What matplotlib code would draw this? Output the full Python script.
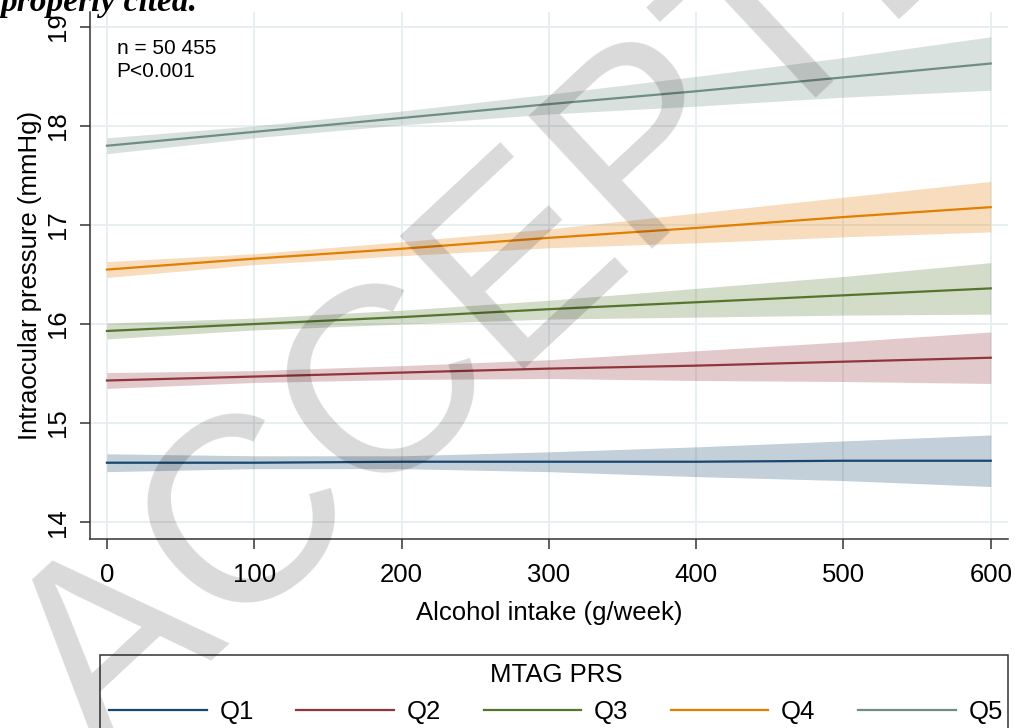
import matplotlib
matplotlib.use("Agg")
import matplotlib.pyplot as plt
from matplotlib.lines import Line2D
from matplotlib.patches import Rectangle

plt.rcParams['font.family'] = ['Liberation Sans', 'DejaVu Sans']

# alcohol intake (g/week) at which values were read
alcohol = [0, 100, 200, 300, 400, 500, 600]

groups = ['Q1', 'Q2', 'Q3', 'Q4', 'Q5']
colors = ['#1a476f', '#90353b', '#55752f', '#e37e00', '#6e8e84']

# predicted IOP (mmHg) per PRS quintile
fit_q1 = [14.60, 14.60, 14.61, 14.61, 14.61, 14.62, 14.62]
fit_q2 = [15.43, 15.47, 15.51, 15.55, 15.58, 15.62, 15.66]
fit_q3 = [15.93, 16.00, 16.07, 16.15, 16.22, 16.29, 16.36]
fit_q4 = [16.55, 16.66, 16.76, 16.87, 16.97, 17.08, 17.18]
fit_q5 = [17.80, 17.94, 18.08, 18.22, 18.35, 18.49, 18.63]

# 95% CI bounds
lo_q1 = [14.51, 14.54, 14.54, 14.51, 14.46, 14.42, 14.36]
hi_q1 = [14.69, 14.67, 14.67, 14.71, 14.76, 14.82, 14.88]
lo_q2 = [15.35, 15.41, 15.44, 15.45, 15.43, 15.42, 15.40]
hi_q2 = [15.51, 15.53, 15.58, 15.64, 15.73, 15.82, 15.92]
lo_q3 = [15.85, 15.94, 16.00, 16.05, 16.07, 16.09, 16.10]
hi_q3 = [16.01, 16.06, 16.14, 16.24, 16.36, 16.48, 16.62]
lo_q4 = [16.47, 16.60, 16.69, 16.77, 16.82, 16.88, 16.93]
hi_q4 = [16.63, 16.71, 16.83, 16.96, 17.12, 17.28, 17.44]
lo_q5 = [17.72, 17.88, 18.01, 18.12, 18.20, 18.29, 18.36]
hi_q5 = [17.88, 18.00, 18.15, 18.32, 18.50, 18.69, 18.90]

fits = [fit_q1, fit_q2, fit_q3, fit_q4, fit_q5]
lows = [lo_q1, lo_q2, lo_q3, lo_q4, lo_q5]
highs = [hi_q1, hi_q2, hi_q3, hi_q4, hi_q5]

x_ticks = [0, 100, 200, 300, 400, 500, 600]
y_ticks = [14, 15, 16, 17, 18, 19]

fig = plt.figure(figsize=(10.15, 7.28), dpi=100)
ax = fig.add_axes([90 / 1015, 189 / 728, 918 / 1015, 527 / 728])

for fit, lo, hi, c in zip(fits, lows, highs, colors):
    ax.fill_between(alcohol, lo, hi, color=c, alpha=0.26, lw=0)
    ax.plot(alcohol, fit, color=c, lw=1.6)

ax.set_xlim(-11.5, 611.7)
ax.set_ylim(13.83, 19.15)
ax.set_xticks(x_ticks)
ax.set_yticks(y_ticks)
ax.grid(True, color='#e6eeef', lw=1.3)
ax.set_axisbelow(True)

for s in ['top', 'right']:
    ax.spines[s].set_visible(False)
for s in ['left', 'bottom']:
    ax.spines[s].set_color('#333333')
    ax.spines[s].set_linewidth(1.1)

ax.tick_params(axis='both', labelsize=18.5, length=7.5, width=1.1,
               color='#333333', pad=7)
ax.tick_params(axis='x', pad=10)
ax.tick_params(axis='y', labelrotation=90)
for lab in ax.get_yticklabels():
    lab.set_va('center')

ax.set_xlabel('Alcohol intake (g/week)', fontsize=18.5)
ax.set_ylabel('Intraocular pressure (mmHg)', fontsize=18.5)
ax.xaxis.set_label_coords(0.5, -0.118)
ax.yaxis.set_label_coords(-0.052, 0.5)

ax.text(0.029, 0.948, 'n = 50 455\nP<0.001', transform=ax.transAxes,
        fontsize=15, va='top', ha='left', linespacing=1.25)

# legend below the plot
handles = [Line2D([], [], color=c, lw=1.6) for c in colors]
leg = fig.legend(handles, groups, loc='upper left', ncol=5, mode='expand',
                 bbox_to_anchor=(104 / 1015, 0, 904 / 1015, 70 / 728),
                 frameon=False, fontsize=18.5, title='MTAG PRS',
                 title_fontsize=18.5, handlelength=3.8, handletextpad=0.5,
                 borderpad=0.2, borderaxespad=0)
fig.add_artist(Rectangle((100 / 1015, -0.1), 908 / 1015, 0.1 + 73 / 728,
                         transform=fig.transFigure, fill=False,
                         edgecolor='#333333', lw=1.1))

# page overlays from the source document
fig.text(0.0, 1 - 11 / 728, 'properly cited.', fontsize=24,
         family='Liberation Serif', weight='bold', style='italic',
         va='baseline', ha='left')
fig.text(580 / 1015, 1 - 223 / 728, 'ACCEPTED', fontsize=190, rotation=43,
         rotation_mode='anchor', ha='center', va='center', color='black',
         alpha=0.15, zorder=10)

fig.savefig('out.png', dpi=100)
